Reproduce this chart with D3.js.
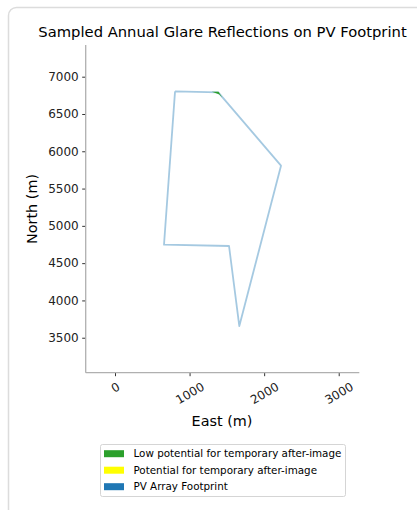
<!DOCTYPE html>
<html>
<head>
<meta charset="utf-8">
<script src="https://d3js.org/d3.v7.min.js"></script>
<style>
  body { margin: 0; background: #fff; font-family: 'DejaVu Sans', sans-serif; }
  svg { display: block; }
</style>
</head>
<body>
<script>
// footprint outline (m)
const footprintEast = [805, 1385, 2226, 1667, 1529, 657, 805];
const footprintNorth = [6804, 6790, 5807, 3657, 4730, 4747, 6804];
// sampled glare patch (low potential)
const glareEast = [1300, 1388, 1440, 1400];
const glareNorth = [6797, 6797, 6718, 6760];
const xTicks = [0, 1000, 2000, 3000];
const yTicks = [3500, 4000, 4500, 5000, 5500, 6000, 6500, 7000];
const legendLabels = ['Low potential for temporary after-image', 'Potential for temporary after-image', 'PV Array Footprint'];
const legendColors = ['#2ca02c', '#ffff00', '#1f77b4'];

const width = 417, height = 510;
const svg = d3.select('body').append('svg').attr('width', width).attr('height', height);

// card outline
svg.append('rect')
  .attr('x', 8.5).attr('y', 7.5).attr('width', 430).attr('height', 530)
  .attr('rx', 8)
  .attr('fill', '#fff').attr('stroke', '#dcdcdc').attr('stroke-width', 1.5);

const x = d3.scaleLinear().domain([-393, 3276]).range([85.7, 359.3]);
const y = d3.scaleLinear().domain([3031, 7425]).range([372.7, 45]);

svg.append('text')
  .attr('x', 222.5).attr('y', 37)
  .attr('text-anchor', 'middle')
  .attr('font-size', 14.75).attr('fill', '#000')
  .text('Sampled Annual Glare Reflections on PV Footprint');

// y axis
const ya = svg.append('g').attr('transform', `translate(${x.range()[0]},0)`)
  .call(d3.axisLeft(y).tickValues(yTicks).tickSize(3.5).tickPadding(3.5).tickFormat(d3.format('d')));
ya.select('.domain').remove();
ya.selectAll('line').attr('stroke', '#333');
ya.selectAll('text').attr('font-size', 12).attr('fill', '#222').attr('font-family', 'DejaVu Sans');

// x axis
const xa = svg.append('g').attr('transform', `translate(0,${y.range()[0]})`)
  .call(d3.axisBottom(x).tickValues(xTicks).tickSize(3.5).tickFormat(d3.format('d')));
xa.select('.domain').remove();
xa.selectAll('line').attr('stroke', '#333');
xa.selectAll('text').remove();
xa.selectAll('.tick').append('text')
  .attr('font-size', 12).attr('fill', '#222').attr('font-family', 'DejaVu Sans')
  .attr('text-anchor', 'middle').attr('dominant-baseline', 'central')
  .attr('transform', d => {
    const w = String(d).length * 7.63;
    const h = 14;
    const bh = w * 0.5 + h * 0.866;
    return `translate(0,${7 + bh / 2}) rotate(-30)`;
  })
  .text(d => d);

// spines
svg.append('line')
  .attr('x1', x.range()[0]).attr('x2', x.range()[0])
  .attr('y1', y.range()[0]).attr('y2', y.range()[1])
  .attr('stroke', '#b0b0b0').attr('stroke-width', 1.3);
svg.append('line')
  .attr('x1', x.range()[0]).attr('x2', x.range()[1])
  .attr('y1', y.range()[0]).attr('y2', y.range()[0])
  .attr('stroke', '#b0b0b0').attr('stroke-width', 1.3);

// axis labels
svg.append('text')
  .attr('x', 222).attr('y', 426)
  .attr('text-anchor', 'middle').attr('font-size', 14.4)
  .text('East (m)');
svg.append('text')
  .attr('transform', 'translate(37,209) rotate(-90)')
  .attr('text-anchor', 'middle').attr('font-size', 14.4)
  .text('North (m)');

// footprint
const line = d3.line().x(i => x(footprintEast[i])).y(i => y(footprintNorth[i]));
svg.append('path')
  .attr('d', line(d3.range(footprintEast.length)))
  .attr('fill', 'none').attr('stroke', '#1f77b4').attr('stroke-opacity', 0.4)
  .attr('stroke-width', 1.8).attr('stroke-linejoin', 'round');

// glare patch
const glareLine = d3.line().x(i => x(glareEast[i])).y(i => y(glareNorth[i]));
svg.append('path')
  .attr('d', glareLine(d3.range(glareEast.length)) + 'Z')
  .attr('fill', '#2ca02c');

// legend
const lg = svg.append('g');
lg.append('rect')
  .attr('x', 100.5).attr('y', 444.5).attr('width', 245).attr('height', 52)
  .attr('rx', 2).attr('fill', '#fff').attr('stroke', '#d5d5d5');
const items = lg.selectAll('g.item').data(legendLabels).enter().append('g')
  .attr('transform', (d, i) => `translate(104,${453.7 + i * 16.5})`);
items.append('rect')
  .attr('x', 0).attr('y', -3.5).attr('width', 20).attr('height', 7)
  .attr('fill', (d, i) => legendColors[i]);
items.append('text')
  .attr('x', 29.5).attr('y', 0).attr('dy', '0.35em')
  .attr('font-size', 10.35).attr('fill', '#000')
  .text(d => d);
</script>
</body>
</html>
